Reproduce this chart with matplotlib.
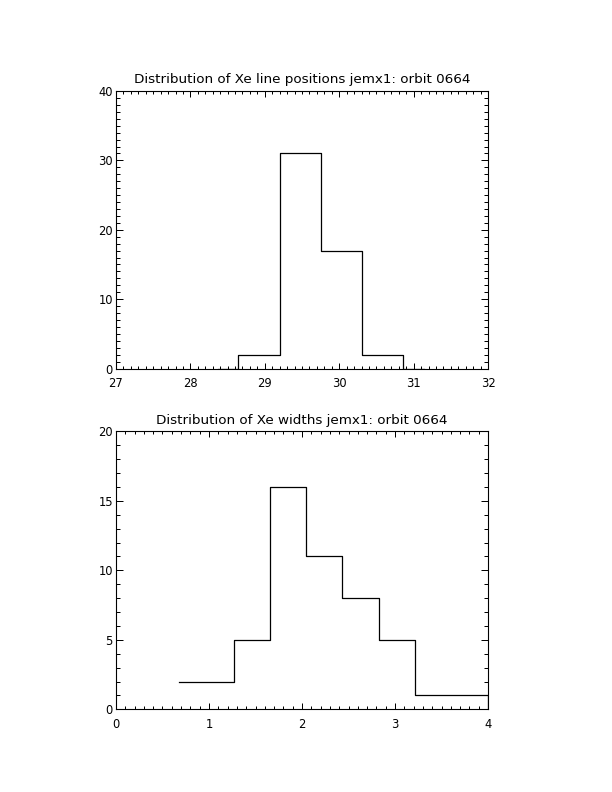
import matplotlib
matplotlib.use("Agg")
import matplotlib.pyplot as plt
from matplotlib.ticker import MultipleLocator

# Line position histogram (bin centres, counts)
pos_centers = [28.37, 28.92, 29.475, 30.03, 30.585, 31.14]
pos_counts = [0, 2, 31, 17, 2, 0]

# Line width histogram (bin centres, counts)
width_centers = [0.68, 1.07, 1.46, 1.85, 2.24, 2.63, 3.02, 3.41, 3.80, 4.19]
width_counts = [2, 2, 5, 16, 11, 8, 5, 1, 1, 0]

titles = ["Distribution of Xe line positions jemx1: orbit 0664",
          "Distribution of Xe widths jemx1: orbit 0664"]

plt.rcParams["font.family"] = "DejaVu Sans"

fig = plt.figure(figsize=(6.12, 7.92), dpi=100)
ax1 = fig.add_axes([0.1895, 0.5347, 0.608, 0.3504])
ax2 = fig.add_axes([0.1895, 0.1044, 0.608, 0.3510])


def style(ax, xlim, ylim, xmaj, xmin, ymaj, ymin):
    ax.set_xlim(*xlim)
    ax.set_ylim(*ylim)
    ax.xaxis.set_major_locator(MultipleLocator(xmaj))
    ax.xaxis.set_minor_locator(MultipleLocator(xmin))
    ax.yaxis.set_major_locator(MultipleLocator(ymaj))
    ax.yaxis.set_minor_locator(MultipleLocator(ymin))
    ax.tick_params(which="both", direction="in", top=True, right=True,
                   width=0.72, color="black", labelsize=8.3)
    ax.tick_params(axis="x", which="major", length=4.0, pad=6.0)
    ax.tick_params(axis="x", which="minor", length=2.0)
    ax.tick_params(axis="y", which="major", length=5.3, pad=2.2)
    ax.tick_params(axis="y", which="minor", length=2.7)
    for s in ax.spines.values():
        s.set_linewidth(0.8)


ax1.step(pos_centers, pos_counts, where="mid", color="black", lw=0.9)
style(ax1, (27, 32), (0, 40), 1, 0.1, 10, 1)
ax1.set_title(titles[0], fontsize=9.7, pad=5.5)

ax2.step(width_centers, width_counts, where="mid", color="black", lw=0.9)
style(ax2, (0, 4), (0, 20), 1, 0.1, 5, 1)
ax2.set_title(titles[1], fontsize=9.7, pad=5.5)

fig.savefig("out.png", dpi=100)
